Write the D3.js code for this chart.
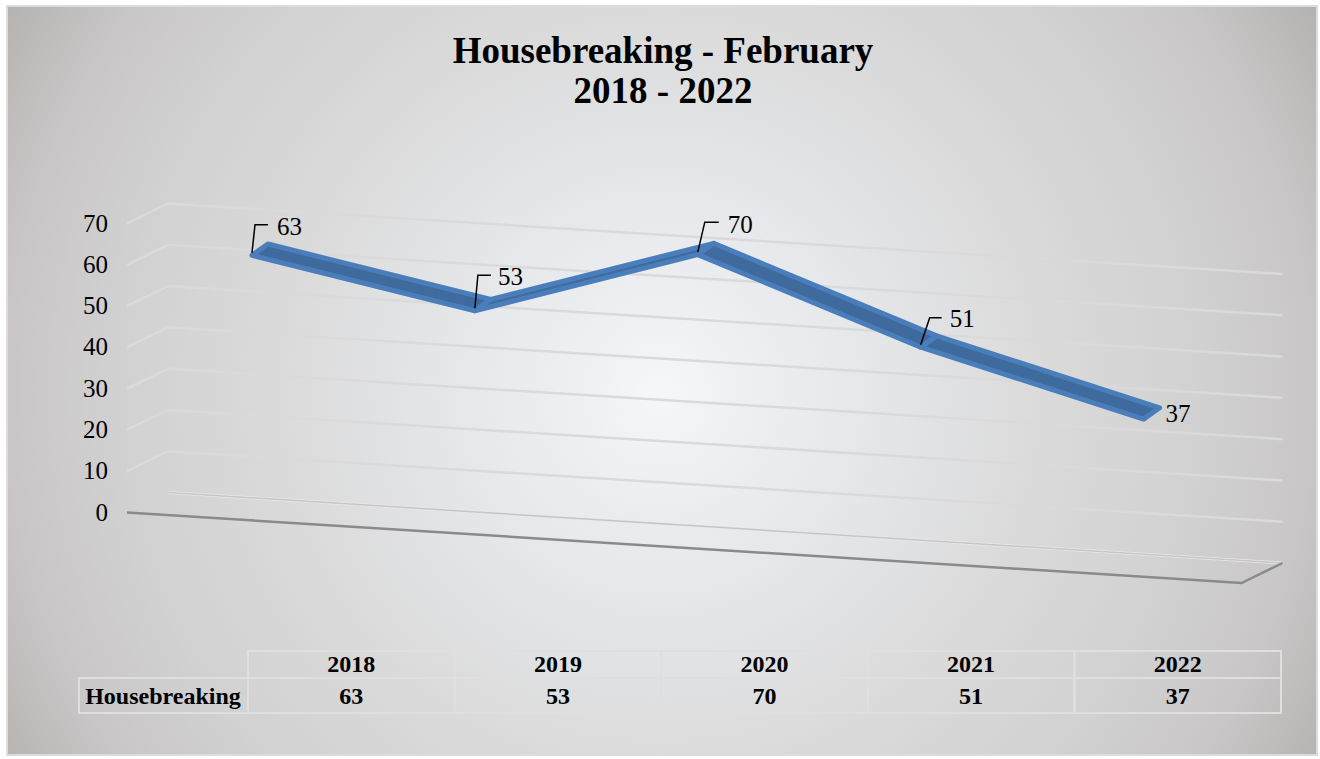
<!DOCTYPE html>
<html>
<head>
<meta charset="utf-8">
<script src="https://cdn.jsdelivr.net/npm/d3@7/dist/d3.min.js"></script>
<style>
html, body { margin: 0; padding: 0; background: #fff; }
svg { display: block; }
text { font-family: "Liberation Serif", serif; fill: #000; }
</style>
</head>
<body>
<script>
// --- chart data ---
var title_lines = ["Housebreaking - February", "2018 - 2022"];
var series_name = "Housebreaking";
var years = ["2018", "2019", "2020", "2021", "2022"];
var values = [63, 53, 70, 51, 37];
var value_ticks = [0, 10, 20, 30, 40, 50, 60, 70];

// leader offsets from the front edge of the ribbon, one per year (last has none)
var leaders = [[3, -28, 16], [3, -33, 16], [7, -30, 21], [9, -27, 21], null];
var label_shift = [[25, -20], [23, -25], [30, -21], [29, -20], [22, 3]];

var width = 1320, height = 759;

function draw_chart(place) {

    var svg = d3.select(place)
        .append("svg")
        .attr("width", width)
        .attr("height", height);

    // --- Background ---
    var defs = svg.append("defs");
    var grad = defs.append("radialGradient")
        .attr("id", "bg_grad")
        .attr("gradientUnits", "userSpaceOnUse")
        .attr("cx", 660).attr("cy", 392).attr("r", 770);
    var bg_stops = [[0, "#f4f8fb"], [0.15, "#ebedf0"], [0.34, "#e2e3e5"], [0.5, "#dadada"],
                    [0.7, "#d2d1d1"], [0.85, "#c8c6c6"], [1, "#b3b1af"]];
    bg_stops.forEach(function (s) {
        grad.append("stop").attr("offset", s[0]).attr("stop-color", s[1]);
    });
    defs.append("filter")
        .attr("id", "soft")
        .append("feGaussianBlur")
        .attr("stdDeviation", 0.5);

    svg.append("rect")
        .attr("x", 7).attr("y", 6)
        .attr("width", 1310).attr("height", 749)
        .attr("fill", "url(#bg_grad)")
        .attr("stroke", "#dcdcdc")
        .attr("stroke-width", 2);

    // --- Title ---
    svg.append("g").selectAll("text")
        .data(title_lines)
        .join("text")
        .text(function (d) { return d; })
        .attr("x", 663)
        .attr("y", function (d, i) { return 63 + i * 40; })
        .attr("text-anchor", "middle")
        .attr("font-size", "37px")
        .attr("font-weight", 700);

    // --- Fake 3D projection ---
    var xScale = d3.scaleBand().domain(years).range([0, 1]);    // fraction along the floor
    var yScale = d3.scaleLinear().domain([0, 70]).range([0, 289]);  // lift in px

    var floor_x = d3.scaleLinear().domain([0, 1]).range([127, 1241.5]);
    var floor_y = d3.scaleLinear().domain([0, 1]).range([512.5, 583]);
    var depth_x = 41, depth_y = 20;

    function project(t, v, depth) {
        return [
            floor_x(t) + depth * depth_x,
            floor_y(t) - depth * depth_y - yScale(v)
        ];
    }
    var line = d3.line();

    // --- Gridlines: side wall + back wall ---
    var grid = svg.append("g").attr("fill", "none").attr("filter", "url(#soft)");
    grid.selectAll("path.wall")
        .data(value_ticks.slice(1))
        .join("path")
        .attr("class", "wall")
        .attr("d", function (v) { return line([project(0, v, 0), project(0, v, 1), project(1, v, 1)]); })
        .attr("stroke", "#dadada")
        .attr("stroke-width", 2.5);

    // --- Floor ---
    var floor = svg.append("g").attr("fill", "none").attr("filter", "url(#soft)");
    floor.append("path")
        .attr("d", line([project(0, 0, 0), project(0, 0, 1)]))
        .attr("stroke", "#d2d2d2").attr("stroke-width", 1);
    floor.append("path")
        .attr("d", line([project(0, 0, 1), project(1, 0, 1)]))
        .attr("stroke", "#e8e8e8").attr("stroke-width", 3);
    floor.append("path")
        .attr("d", line([project(0, 0, 1), project(1, 0, 1)]))
        .attr("stroke", "#c6c6c6").attr("stroke-width", 1.5);
    floor.append("path")
        .attr("d", line([project(0, 0, 0), project(1, 0, 0), project(1, 0, 1)]))
        .attr("stroke", "#8a8a8a").attr("stroke-width", 2.5);

    // --- Value axis labels ---
    svg.append("g").selectAll("text")
        .data(value_ticks)
        .join("text")
        .text(function (d) { return d; })
        .attr("x", 108)
        .attr("y", function (d) { return project(0, d, 0)[1] + 8; })
        .attr("text-anchor", "end")
        .attr("font-size", "25px");

    // --- Ribbon, one quad per segment ---
    var d_front = 0.33, d_back = 0.72;
    var mid = function (y) { return xScale(y) + xScale.bandwidth() / 2; };

    function ribbon_front(y, v) {
        var p = project(mid(y), v, d_front);
        return [p[0], p[1] + 2.5];
    }
    function ribbon_back(y, v) {
        var p = project(mid(y), v, d_back);
        return [p[0], p[1] - 1];
    }

    var segments = d3.pairs(d3.zip(years, values));
    svg.append("g").selectAll("path")
        .data(segments)
        .join("path")
        .attr("d", function (s) {
            var a = s[0], b = s[1];
            return line([
                ribbon_front(a[0], a[1]),
                ribbon_front(b[0], b[1]),
                ribbon_back(b[0], b[1]),
                ribbon_back(a[0], a[1])
            ]) + "Z";
        })
        .attr("fill", "#3f6a9e")
        .attr("stroke", "#4a7ebb")
        .attr("stroke-width", 5)
        .attr("stroke-linejoin", "round");

    // --- Data labels + leaders ---
    var labels = svg.append("g");
    years.forEach(function (y, i) {
        var p = project(mid(y), values[i], d_front);
        var l = leaders[i];
        if (l) {
            labels.append("path")
                .attr("d", line([p, [p[0] + l[0], p[1] + l[1]], [p[0] + l[2], p[1] + l[1]]]))
                .attr("fill", "none")
                .attr("stroke", "#000")
                .attr("stroke-width", 1.5);
        }
        labels.append("text")
            .text(values[i])
            .attr("x", p[0] + label_shift[i][0])
            .attr("y", p[1] + label_shift[i][1] + 2)
            .attr("font-size", "25px");
    });

    // --- Data table ---
    var table_x = d3.scaleBand().domain(years).range([248, 1281]);
    var rows = [651, 678, 713];
    var tbl = svg.append("g");

    tbl.selectAll("rect.head")
        .data(years)
        .join("rect")
        .attr("class", "head")
        .attr("x", function (d) { return table_x(d); })
        .attr("y", rows[0])
        .attr("width", table_x.bandwidth())
        .attr("height", rows[1] - rows[0]);
    tbl.selectAll("rect.val")
        .data(years)
        .join("rect")
        .attr("class", "val")
        .attr("x", function (d) { return table_x(d); })
        .attr("y", rows[1])
        .attr("width", table_x.bandwidth())
        .attr("height", rows[2] - rows[1]);
    tbl.append("rect")
        .attr("x", 79).attr("y", rows[1])
        .attr("width", 248 - 79).attr("height", rows[2] - rows[1]);
    tbl.selectAll("rect")
        .attr("fill", "none")
        .attr("stroke", "#dfdfdf")
        .attr("stroke-width", 2)
        .attr("filter", "url(#soft)");

    tbl.selectAll("text.year")
        .data(years)
        .join("text")
        .attr("class", "year")
        .text(function (d) { return d; })
        .attr("x", function (d) { return table_x(d) + table_x.bandwidth() / 2; })
        .attr("y", 672);
    tbl.selectAll("text.num")
        .data(values)
        .join("text")
        .attr("class", "num")
        .text(function (d) { return d; })
        .attr("x", function (d, i) { return table_x(years[i]) + table_x.bandwidth() / 2; })
        .attr("y", 704);
    tbl.append("text")
        .text(series_name)
        .attr("x", 163).attr("y", 704);
    tbl.selectAll("text")
        .attr("text-anchor", "middle")
        .attr("font-size", "24px")
        .attr("font-weight", 700);
}

draw_chart("body");
</script>
</body>
</html>
